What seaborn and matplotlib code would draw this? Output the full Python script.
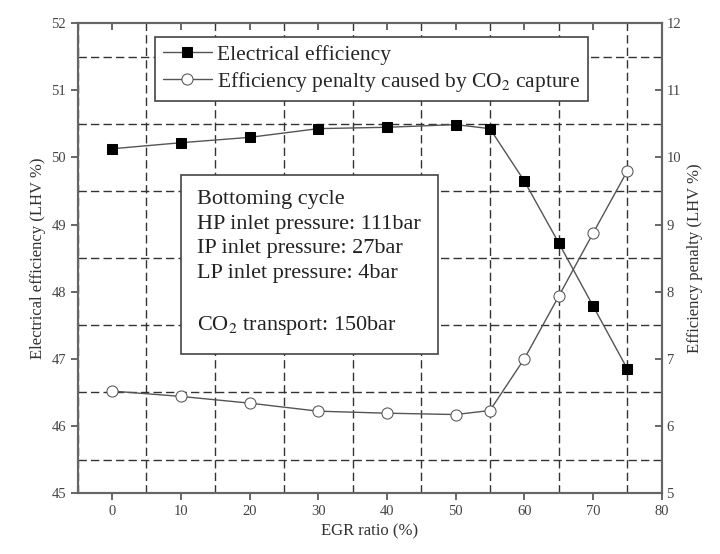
import seaborn as sns
import matplotlib.pyplot as plt
from matplotlib.ticker import MultipleLocator

egr = [0, 10, 20, 30, 40, 50, 55, 60, 65, 70, 75]
eff_el = [50.13, 50.22, 50.30, 50.43, 50.45, 50.49, 50.43, 49.65, 48.73, 47.79, 46.85]
penalty = [6.52, 6.44, 6.34, 6.22, 6.19, 6.17, 6.23, 7.00, 7.93, 8.87, 9.80]

sns.set_theme(style="white")
plt.rcParams["font.family"] = ["Liberation Serif", "DejaVu Serif"]
plt.rcParams["mathtext.fontset"] = "stix"

fig, ax = plt.subplots(figsize=(7.2, 5.54), dpi=100)
fig.subplots_adjust(left=0.108, right=0.919, top=0.958, bottom=0.11)
ax2 = ax.twinx()

line_col = "#555555"
sns.lineplot(x=egr, y=eff_el, ax=ax, color=line_col, lw=1, marker="s",
             markersize=7, markerfacecolor="black", markeredgecolor="black",
             label="Electrical efficiency", legend=False)
sns.lineplot(x=egr, y=penalty, ax=ax2, color=line_col, lw=1, marker="o",
             markersize=8, markerfacecolor="white", markeredgecolor=line_col,
             label="Efficiency penalty caused by CO$_2$ capture", legend=False)

ax.set_xlim(-5, 80)
ax.set_ylim(45, 52)
ax2.set_ylim(5, 12)
ax.xaxis.set_major_locator(MultipleLocator(10))
ax.xaxis.set_minor_locator(MultipleLocator(10, offset=5))
ax.yaxis.set_major_locator(MultipleLocator(1))
ax.yaxis.set_minor_locator(MultipleLocator(1, offset=0.5))
ax2.yaxis.set_major_locator(MultipleLocator(1))

ax.grid(which="minor", color="#333333", linestyle=(0, (6, 3)), lw=1)
ax.grid(which="major", visible=False)
ax2.grid(False)

for a in (ax, ax2):
    for s in a.spines.values():
        s.set_color("#666666")
        s.set_linewidth(1.5)

ax.tick_params(which="major", direction="out", length=5, color="#555555",
               labelsize=10.5, labelcolor="#444444", bottom=True, left=True, top=False)
ax.tick_params(which="minor", length=0)
ax2.tick_params(direction="in", length=5, color="#555555", labelsize=10.5,
                labelcolor="#444444", right=True)
secx = ax.secondary_xaxis("top")
secx.xaxis.set_major_locator(MultipleLocator(10))
secx.tick_params(direction="in", length=5, color="#555555", labeltop=False)
secx.spines["top"].set_visible(False)

ax.set_xlabel("EGR ratio (%)", fontsize=12, color="#333333")
ax.set_ylabel("Electrical efficiency (LHV %)", fontsize=12, color="#333333")
ax2.set_ylabel("Efficiency penalty (LHV %)", fontsize=12, color="#333333")

h1, l1 = ax.get_legend_handles_labels()
h2, l2 = ax2.get_legend_handles_labels()
leg = ax2.legend(h1 + h2, l1 + l2, loc="upper center", bbox_to_anchor=(0.503, 0.97),
                 fontsize=15.5, frameon=True, fancybox=False, edgecolor="#444444",
                 framealpha=1, handlelength=2.3, handletextpad=0.25,
                 borderpad=0.35, labelspacing=0.22, borderaxespad=0)
leg.get_frame().set_linewidth(1.2)

info = ("Bottoming cycle\nHP inlet pressure: 111bar\nIP inlet pressure: 27bar\n"
        "LP inlet pressure: 4bar\n\nCO$_2$ transport: 150bar")
ax2.text(0.205, 0.645, info, transform=ax.transAxes, fontsize=16, va="top",
         ha="left", color="#222222", linespacing=1.4,
         bbox=dict(boxstyle="square,pad=0.75", facecolor="white",
                   edgecolor="#444444", lw=1.2))

plt.savefig("out.png", dpi=100)
